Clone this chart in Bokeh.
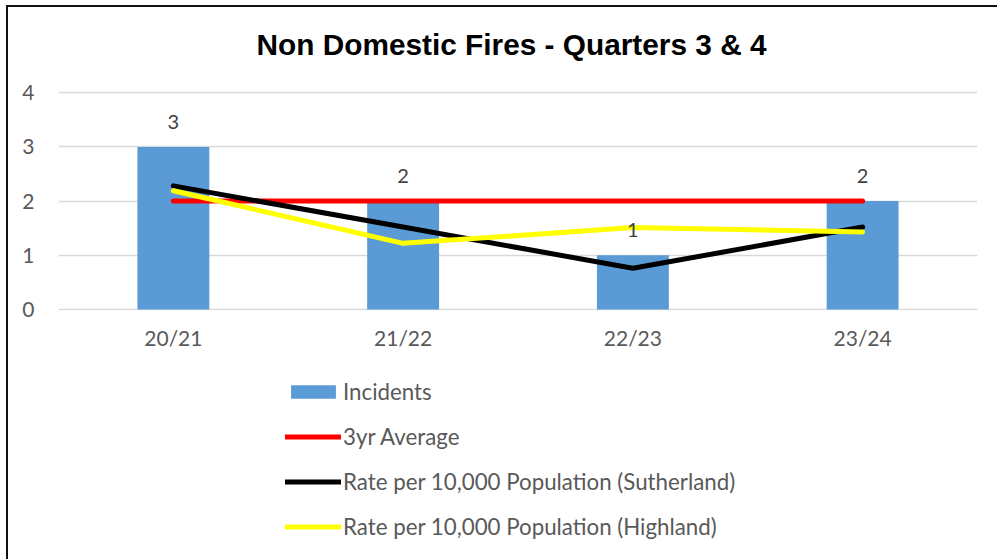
from bokeh.plotting import figure
from bokeh.layouts import column
from bokeh.models import ColumnDataSource, Range1d, FactorRange, FixedTicker, Legend, LegendItem
from bokeh.core.properties import value
from bokeh.embed import file_html
from bokeh.resources import INLINE

# ---- data ----
seasons = ["20/21", "21/22", "22/23", "23/24"]
incidents = [3, 2, 1, 2]
avg_3yr = [2, 2, 2, 2]
rate_sutherland = [2.28, 1.52, 0.76, 1.52]
rate_highland = [2.19, 1.22, 1.51, 1.43]
y_ticks = [0, 1, 2, 3, 4]
series_names = ["Incidents", "3yr Average",
                "Rate per 10,000 Population (Sutherland)",
                "Rate per 10,000 Population (Highland)"]

BAR_COLOR = "#5b9bd5"
AVG_COLOR = "#ff0000"
SUTH_COLOR = "#000000"
HIGH_COLOR = "#ffff00"
FONT = "Lato"
GRAY = "#595959"

source = ColumnDataSource(dict(
    season=seasons,
    incidents=incidents,
    label=[str(v) for v in incidents],
    avg=avg_3yr,
    suth=rate_sutherland,
    high=rate_highland,
))


def draw_series(fig):
    b = fig.vbar(x="season", top="incidents", width=0.313, source=source,
                 fill_color=BAR_COLOR, line_color=None)
    a = fig.line(x="season", y="avg", source=source, line_color=AVG_COLOR,
                 line_width=5, line_cap="round", line_join="round")
    s = fig.line(x="season", y="suth", source=source, line_color=SUTH_COLOR,
                 line_width=5, line_cap="round", line_join="round")
    h = fig.line(x="season", y="high", source=source, line_color=HIGH_COLOR,
                 line_width=5, line_cap="round", line_join="round")
    return [b, a, s, h]


W = 989
p = figure(
    width=W, height=351,
    x_range=FactorRange(*seasons, range_padding=0),
    y_range=Range1d(-0.02, 4.41),
    output_backend="svg", toolbar_location=None,
    min_border_left=50, min_border_right=20, min_border_top=63, min_border_bottom=48,
    title="Non Domestic Fires - Quarters 3 & 4",
)
p.outline_line_color = None
p.border_fill_color = "white"

p.title.align = "left"
p.title.offset = 198
p.title.text_font = "Liberation Sans"
p.title.text_font_style = "bold"
p.title.text_font_size = "29.8px"
p.title.text_color = "black"
p.title.standoff = 20

draw_series(p)

p.text(x="season", y="incidents", text="label", source=source,
       text_font=value(FONT), text_font_size="20px", text_color="#404040",
       text_align="center", text_baseline="middle", y_offset=-25)

p.yaxis.ticker = FixedTicker(ticks=y_ticks)
p.yaxis.axis_line_color = None
p.yaxis.major_tick_line_color = None
p.yaxis.minor_tick_line_color = None
p.yaxis.major_tick_out = 0
p.yaxis.major_tick_in = 0
p.yaxis.minor_tick_out = 0
p.yaxis.major_label_standoff = 24
p.yaxis.major_label_text_font = FONT
p.yaxis.major_label_text_font_size = "21px"
p.yaxis.major_label_text_color = GRAY

p.xaxis.axis_line_color = None
p.xaxis.major_tick_line_color = None
p.xaxis.major_tick_out = 0
p.xaxis.major_tick_in = 0
p.xaxis.major_label_standoff = 14
p.xaxis.major_label_text_font = FONT
p.xaxis.major_label_text_font_size = "21px"
p.xaxis.major_label_text_color = GRAY

p.xgrid.grid_line_color = None
p.ygrid.grid_line_color = "#d9d9d9"
p.ygrid.grid_line_width = 1.5

# ---- legend panel below the chart (same series, nothing in view) ----
lg = figure(width=W, height=201,
            x_range=FactorRange(*seasons, range_padding=0), y_range=Range1d(10, 11),
            x_axis_type=None, y_axis_type=None, output_backend="svg",
            toolbar_location=None, min_border=0)
lg.outline_line_color = None
lg.grid.visible = False
lg_renderers = draw_series(lg)

legend = Legend(
    items=[LegendItem(label=n, renderers=[r]) for n, r in zip(series_names, lg_renderers)],
    location=(227, 19),
    orientation="vertical",
    border_line_color=None,
    background_fill_alpha=0,
    padding=0, margin=0,
    spacing=18,
    glyph_width=56, glyph_height=17, label_height=26,
    label_standoff=2,
    label_text_font=FONT, label_text_font_size="22.3px", label_text_color=GRAY,
)
lg.add_layout(legend, "center")

layout = column(p, lg, spacing=0)
layout.margin = (5, 0, 0, 6)
layout.styles = {"border-left": "2px solid #111", "border-top": "2px solid #111"}

open("out.html", "w").write(file_html(layout, INLINE))
